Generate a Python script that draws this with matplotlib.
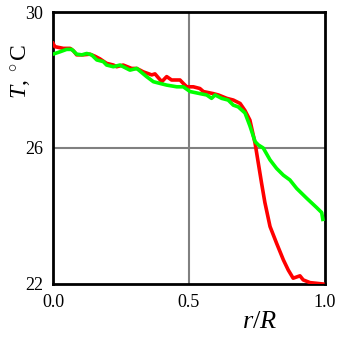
import matplotlib.pyplot as plt

plt.rcParams['font.family'] = ['Liberation Serif', 'DejaVu Serif']
plt.rcParams['mathtext.fontset'] = 'custom'
plt.rcParams['mathtext.rm'] = 'Liberation Serif'
plt.rcParams['mathtext.it'] = 'Liberation Serif:italic'

# red profile
r_red = [0.0, 0.007, 0.038, 0.063, 0.075, 0.087, 0.111, 0.136, 0.154, 0.173,
         0.197, 0.222, 0.234, 0.258, 0.289, 0.308, 0.332, 0.363, 0.375, 0.400,
         0.418, 0.436, 0.467, 0.479, 0.492, 0.516, 0.540, 0.553, 0.589, 0.608,
         0.639, 0.663, 0.688, 0.706, 0.724, 0.743, 0.755, 0.767, 0.779, 0.798,
         0.822, 0.847, 0.865, 0.883, 0.908, 0.920, 0.945, 0.969, 0.992]
t_red = [29.08, 28.98, 28.93, 28.93, 28.86, 28.74, 28.74, 28.76, 28.70, 28.62,
         28.49, 28.44, 28.39, 28.44, 28.34, 28.34, 28.24, 28.15, 28.18, 27.95,
         28.10, 28.00, 28.00, 27.90, 27.80, 27.80, 27.75, 27.66, 27.60, 27.56,
         27.46, 27.41, 27.31, 27.10, 26.82, 26.14, 25.55, 24.96, 24.40, 23.69,
         23.20, 22.71, 22.41, 22.17, 22.24, 22.12, 22.04, 22.02, 22.00]

# green profile
r_green = [0.0, 0.026, 0.050, 0.069, 0.087, 0.106, 0.124, 0.142, 0.161, 0.185,
           0.197, 0.222, 0.246, 0.283, 0.308, 0.344, 0.369, 0.393, 0.418, 0.455,
           0.479, 0.497, 0.504, 0.540, 0.565, 0.583, 0.596, 0.620, 0.644, 0.663,
           0.681, 0.706, 0.724, 0.743, 0.755, 0.773, 0.798, 0.822, 0.847, 0.871,
           0.896, 0.933, 0.969, 0.988, 0.992]
t_green = [28.76, 28.83, 28.90, 28.90, 28.76, 28.74, 28.78, 28.74, 28.59, 28.54,
           28.44, 28.39, 28.44, 28.29, 28.34, 28.10, 27.95, 27.90, 27.85, 27.80,
           27.80, 27.70, 27.66, 27.60, 27.56, 27.46, 27.56, 27.46, 27.41, 27.26,
           27.21, 27.03, 26.65, 26.19, 26.09, 26.00, 25.65, 25.40, 25.20, 25.06,
           24.81, 24.52, 24.25, 24.10, 23.90]

xticks = [0.0, 0.5, 1.0]
yticks = [22, 26, 30]

fig = plt.figure(figsize=(3.41, 3.41), dpi=100)
ax = fig.add_axes([0.1554, 0.1672, 0.7976, 0.7976])

ax.axvline(0.5, color='#808080', lw=1.5, zorder=1)
ax.axhline(26, color='#808080', lw=1.5, zorder=1)

ax.plot(r_red, t_red, color='#ff0000', lw=2.6, zorder=3)
ax.plot(r_green, t_green, color='#00ff00', lw=2.6, zorder=4)

ax.set_xlim(0, 1)
ax.set_ylim(22, 30)
ax.set_xticks(xticks)
ax.set_xticklabels(['%.1f' % v for v in xticks])
ax.set_yticks(yticks)
ax.tick_params(length=0, labelsize=13, pad=7)
for s in ax.spines.values():
    s.set_linewidth(2)

ax.text(-0.115, 0.78, r'$T$, $^\circ$C', transform=ax.transAxes, rotation=90,
        ha='center', va='center', fontsize=17)
ax.text(0.76, -0.14, r'$r/R$', transform=ax.transAxes,
        ha='center', va='center', fontsize=19)

fig.savefig('out.png', dpi=100)
